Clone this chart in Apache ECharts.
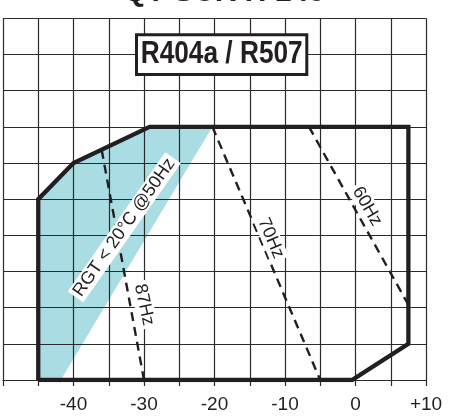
<!DOCTYPE html>
<html><head><meta charset="utf-8">
<script src="https://cdn.jsdelivr.net/npm/echarts@6/dist/echarts.min.js"></script>
<style>html,body{margin:0;padding:0;background:#fff}#c{width:451px;height:417px}</style>
</head><body><div id="c"></div>
<script>
// x: evaporating temperature (°C), y: condensing temperature (°C)
const xTickLabels = ['-40', '-30', '-20', '-10', '0', '+10'];
const envelopeX = [-45, -45, -40, -29.2, 7.5, 7.5, -0.5, -45];
const envelopeY = [20, 45, 50, 55, 55, 25, 20, 20];
const rgtBandX = [-45, -41.8, -20.3, -29.2, -40, -45];
const rgtBandY = [20, 20, 55, 55, 50, 45];
const line87X = [-36, -30];
const line87Y = [51.8, 20];
const line70X = [-20.3, -5];
const line70Y = [55, 20];
const line60X = [-6.6, 7.5];
const line60Y = [55, 30.4];
const refrigerantLabel = 'R404a / R507';
const modelTitle = 'QT SCR H 145';
const lineLabels = ['87Hz', '70Hz', '60Hz', 'RGT < 20°C @50Hz'];

const pairs = (xs, ys) => xs.map((x, i) => [x, ys[i]]);

// annotation placement (data coords, rotation deg)
const labelPlace = [
  { x: -30.0, y: 30.4, rot: -78 },
  { x: -12.0, y: 39.6, rot: -67 },
  { x: 1.65, y: 44.0, rot: -60 },
  { x: -32.8, y: 41.1, rot: 55 }
];

const chart = echarts.init(document.getElementById('c'), null, { renderer: 'canvas' });
const ink = '#231f20';
const gridCol = '#2b2b2b';
const dashed = { color: ink, width: 2.4, type: [9, 6] };

chart.setOption({
  animation: false,
  backgroundColor: '#fff',
  grid: { left: 0, right: 25, top: 18.3, bottom: 37 },
  graphic: [
    {
      type: 'text', x: 224, y: 8, z: 10,
      style: { text: modelTitle, font: 'bold 30px "Liberation Sans", Arial, sans-serif', fill: ink, align: 'center', verticalAlign: 'bottom' }
    },
    {
      type: 'rect', z: 10,
      shape: { x: 136.5, y: 34.8, width: 170.3, height: 39.7 },
      style: { fill: '#fff', stroke: ink, lineWidth: 3 }
    },
    {
      type: 'text', x: 221.7, y: 54.6, z: 11, scaleX: 0.82, originX: 0, originY: 0,
      style: { text: refrigerantLabel, font: 'bold 32px "Liberation Sans", Arial, sans-serif', fill: ink, align: 'center', verticalAlign: 'middle' }
    }
  ],
  xAxis: {
    type: 'value', min: -50, max: 10, interval: 5, z: 3,
    axisLine: { show: true, lineStyle: { color: gridCol, width: 1.2 } },
    axisTick: { show: true, length: 6, lineStyle: { color: gridCol, width: 1.2 } },
    splitLine: { show: true, lineStyle: { color: gridCol, width: 1.2 } },
    axisLabel: {
      margin: 15, fontSize: 19, color: ink, fontFamily: '"Liberation Sans", Arial, sans-serif',
      formatter: v => {
        const s = (v > 0 ? '+' : '') + v;
        return xTickLabels.indexOf(s) >= 0 ? s : '';
      }
    }
  },
  yAxis: {
    type: 'value', min: 20, max: 70, interval: 5, z: 3,
    axisLine: { show: true, lineStyle: { color: gridCol } },
    axisTick: { show: false },
    axisLabel: { show: false },
    splitLine: { show: true, lineStyle: { color: gridCol, width: 1.2 } }
  },
  series: [
    {
      type: 'custom', z: 1, silent: true,
      data: pairs(rgtBandX, rgtBandY),
      renderItem: (params, api) => {
        if (params.dataIndex !== 0) return null;
        const pts = pairs(rgtBandX, rgtBandY).map(p => api.coord(p));
        return { type: 'polygon', shape: { points: pts }, style: { fill: '#aadde3' } };
      }
    },
    { type: 'line', z: 4, data: pairs(line87X, line87Y), symbol: 'none', lineStyle: dashed },
    { type: 'line', z: 4, data: pairs(line70X, line70Y), symbol: 'none', lineStyle: dashed },
    { type: 'line', z: 4, data: pairs(line60X, line60Y), symbol: 'none', lineStyle: dashed },
    { type: 'line', z: 5, data: pairs(envelopeX, envelopeY), symbol: 'none', lineStyle: { color: ink, width: 4.3, join: 'miter' } },
    {
      type: 'custom', z: 7, silent: true,
      data: labelPlace.map(p => [p.x, p.y]),
      renderItem: (params, api) => {
        const i = params.dataIndex;
        const c = api.coord([api.value(0), api.value(1)]);
        return {
          type: 'text', x: c[0], y: c[1], rotation: labelPlace[i].rot * Math.PI / 180,
          style: {
            text: lineLabels[i], fill: ink, align: 'center', verticalAlign: 'middle',
            font: '18px "Liberation Sans", Arial, sans-serif',
            backgroundColor: '#fff', padding: [1, 3, 0, 3]
          }
        };
      }
    }
  ]
});
</script></body></html>
